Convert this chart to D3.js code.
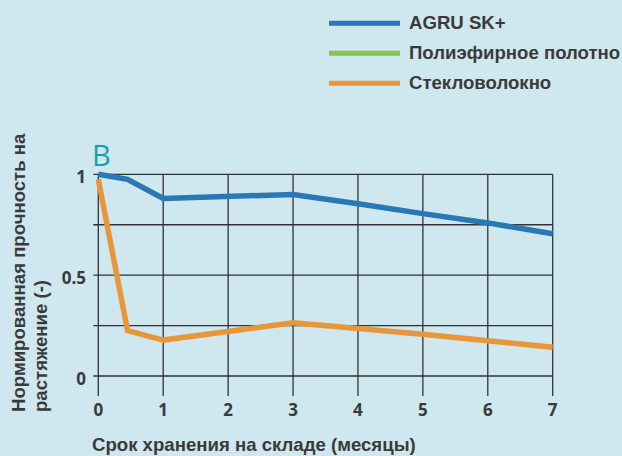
<!DOCTYPE html>
<html>
<head>
<meta charset="utf-8">
<script src="https://cdn.jsdelivr.net/npm/d3@7"></script>
<style>
  html, body { margin: 0; padding: 0; background: #cfe7ee; }
  svg { display: block; }
  .tick-label { font-family: "Open Sans", sans-serif; font-weight: 700; font-size: 17px; fill: #3a3a3a; }
  .title { font-family: "Liberation Sans", Arial, sans-serif; font-weight: 700; font-size: 18.6px; fill: #3a3a3a; }
</style>
</head>
<body>
<div id="chart"></div>
<script>
// series names and colours
const seriesNames = ['AGRU SK+', 'Полиэфирное полотно', 'Стекловолокно'];
const seriesColors = ['#2a77b6', '#86c450', '#e8963a'];

// months (x) and normalized strength (y)
const agruMonths = [0, 0.45, 1, 3, 4, 5, 6, 7];
const agruValues = [1.0, 0.975, 0.88, 0.9, 0.854, 0.805, 0.759, 0.705];
const glassMonths = [0, 0.45, 1, 3, 4, 5, 6, 7];
const glassValues = [0.975, 0.225, 0.178, 0.264, 0.236, 0.207, 0.175, 0.142];

const xTicks = [0, 1, 2, 3, 4, 5, 6, 7];
const yGrid = [0, 0.25, 0.5, 0.75, 1];
const yLabels = [0, 0.5, 1];

const width = 622, height = 456;
const svg = d3.select('#chart').append('svg')
  .attr('width', width)
  .attr('height', height);

svg.append('rect').attr('width', width).attr('height', height).attr('fill', '#cfe7ee');

const x = d3.scaleLinear().domain([0, 7]).range([98.3, 552.7]);
const y = d3.scaleLinear().domain([0, 1]).range([376, 174.3]);

// grid
const grid = svg.append('g').attr('stroke', '#333').attr('stroke-width', 1.3);
grid.selectAll('line.h').data(yGrid).join('line')
  .attr('x1', x(0) - 5).attr('x2', x(7))
  .attr('y1', d => y(d)).attr('y2', d => y(d));
grid.selectAll('line.v').data(xTicks).join('line')
  .attr('x1', d => x(d)).attr('x2', d => x(d))
  .attr('y1', y(1)).attr('y2', y(0) + 20);

// tick labels
svg.append('g').selectAll('text').data(xTicks).join('text')
  .attr('class', 'tick-label')
  .attr('x', d => x(d)).attr('y', 416)
  .attr('text-anchor', 'middle')
  .text(d => d);
svg.append('g').selectAll('text').data(yLabels).join('text')
  .attr('class', 'tick-label')
  .attr('x', 86).attr('y', d => y(d) + 9)
  .attr('text-anchor', 'end')
  .text(d => d);

// lines
const line = d3.line().x(d => x(d[0])).y(d => y(d[1]));
const agru = d3.zip(agruMonths, agruValues);
const glass = d3.zip(glassMonths, glassValues);

svg.append('path').datum(glass)
  .attr('d', line).attr('fill', 'none')
  .attr('stroke', seriesColors[2]).attr('stroke-width', 5.5);
svg.append('path').datum(agru)
  .attr('d', line).attr('fill', 'none')
  .attr('stroke', seriesColors[0]).attr('stroke-width', 5.5);

// panel letter
svg.append('text')
  .attr('x', 92).attr('y', 166)
  .attr('font-family', 'Open Sans, sans-serif')
  .attr('font-size', 29)
  .attr('fill', '#1a9db4')
  .text('B');

// axis titles
svg.append('text').attr('class', 'title')
  .attr('x', 92).attr('y', 451)
  .text('Срок хранения на складе (месяцы)');

const yt = svg.append('text').attr('class', 'title')
  .attr('transform', 'translate(25,412) rotate(-90)');
yt.append('tspan').attr('x', 0).attr('y', 0).text('Нормированная прочность на');
yt.append('tspan').attr('x', 0).attr('y', 22).text('растяжение (-)');

// legend
const legend = svg.append('g').selectAll('g').data(seriesNames).join('g')
  .attr('transform', (d, i) => `translate(329,${23.3 + i * 30})`);
legend.append('line')
  .attr('x1', 0).attr('x2', 71)
  .attr('stroke', (d, i) => seriesColors[i]).attr('stroke-width', 5);
legend.append('text').attr('class', 'title')
  .attr('x', 80).attr('y', 6)
  .text(d => d);
</script>
</body>
</html>
